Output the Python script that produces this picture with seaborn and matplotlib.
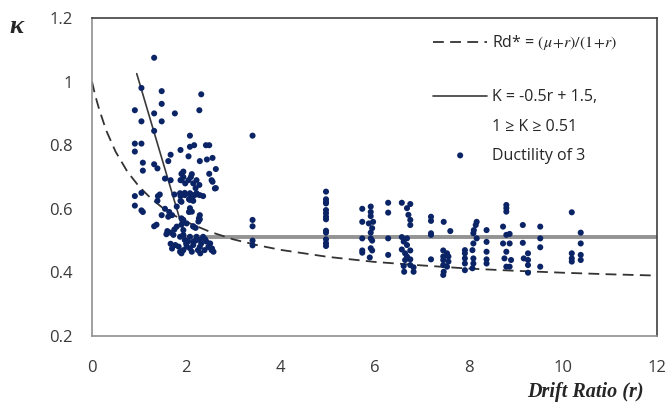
import numpy as np
import pandas as pd
import matplotlib
matplotlib.use("Agg")
import matplotlib.pyplot as plt
from matplotlib.lines import Line2D
import seaborn as sns

# Scatter data (drift ratio r, kappa)
r_pts = [
    1.32, 1.05, 1.48, 2.32, 1.48, 0.91, 1.32, 1.76, 2.28, 1.05, 1.48, 1.32, 3.41, 2.08, 0.91, 1.05,
    0.91, 1.88, 2.08, 2.17, 2.42, 2.49, 1.67, 2.05, 2.56, 2.44, 2.29, 1.62, 1.08, 1.08, 1.32, 1.39,
    2.63, 1.90, 1.94, 1.88, 2.49, 1.55, 1.67, 2.10, 2.15, 2.20, 2.56, 2.63, 1.98, 0.91, 1.05, 1.44,
    1.40, 1.75, 1.88, 1.97, 2.08, 2.15, 2.22, 2.36, 1.88, 2.06, 2.15, 0.91, 1.05, 1.08, 1.39, 1.55,
    1.64, 1.70, 1.62, 2.06, 2.27, 2.26, 1.48, 1.90, 1.32, 1.37, 1.60, 1.58, 1.67, 1.75, 1.90, 2.15,
    2.20, 3.41, 3.41, 3.41, 3.41,
    1.94, 2.12, 1.90, 2.05, 2.22, 2.28, 2.54, 2.61, 1.87, 1.97, 2.08, 2.15, 2.22, 2.29, 1.90, 2.08,
    1.80, 2.08, 2.12, 2.29, 2.29, 1.94, 2.01, 2.15, 1.80, 1.94,
    1.73, 1.87, 1.94, 1.97, 2.04, 2.08, 2.15, 2.22, 2.29, 2.32, 2.36, 2.43, 2.51, 2.54, 2.58, 2.39,
    2.25, 2.08, 1.94, 1.84, 1.77, 1.87, 2.01, 2.15, 1.67, 1.70, 1.90, 2.12, 2.29, 2.47, 2.40, 2.00,
    2.20, 2.55, 2.30,
    4.97, 4.97, 4.97, 4.97, 4.97, 4.97, 4.97, 4.97, 4.97, 4.97, 4.97, 4.97, 4.97,
    5.74, 5.92, 5.92, 5.92, 5.74, 5.88, 5.97, 5.95, 5.92, 5.74, 5.92, 5.95, 5.74, 5.74, 5.92, 5.95,
    5.90,
    6.29, 6.29, 6.29, 6.29,
    6.58, 6.76, 6.69, 6.72, 6.76, 6.76, 6.58, 6.69, 6.62, 6.69, 6.58, 6.76, 6.65, 6.69, 6.76, 6.65,
    6.62, 6.76, 6.83, 6.63, 6.83,
    7.20, 7.20, 7.20, 7.20, 7.20,
    7.47, 7.61, 7.46, 7.54, 7.46, 7.57, 7.46, 7.57, 7.46, 7.54, 7.47, 7.46,
    8.17, 8.15, 8.11, 8.10, 8.17, 8.10, 8.08, 7.92, 7.92, 7.92, 8.10, 7.92, 8.10, 8.08, 7.92,
    8.38, 8.38, 8.38, 8.38, 8.38,
    8.80, 8.80, 8.80, 8.73, 8.87, 8.80, 8.73, 8.87, 8.80, 8.76, 8.90, 8.80, 8.87,
    9.15, 9.15, 9.17, 9.26, 9.26, 9.26, 9.26,
    9.52, 9.52, 9.52, 9.52,
    10.19, 10.19, 10.19, 10.19,
    10.38, 10.38, 10.38, 10.38,
]
k_pts = [
    1.075, 0.98, 0.97, 0.96, 0.93, 0.91, 0.90, 0.90, 0.91, 0.875, 0.875, 0.845, 0.83, 0.83, 0.805, 0.805,
    0.78, 0.785, 0.795, 0.80, 0.80, 0.80, 0.77, 0.765, 0.76, 0.755, 0.75, 0.75, 0.745, 0.72, 0.74, 0.727,
    0.725, 0.71, 0.70, 0.69, 0.71, 0.695, 0.69, 0.70, 0.68, 0.665, 0.685, 0.665, 0.68, 0.64, 0.65, 0.645,
    0.64, 0.645, 0.64, 0.65, 0.645, 0.64, 0.645, 0.64, 0.625, 0.63, 0.625, 0.61, 0.595, 0.59, 0.625, 0.60,
    0.59, 0.58, 0.575, 0.59, 0.57, 0.56, 0.58, 0.57, 0.545, 0.55, 0.53, 0.52, 0.525, 0.535, 0.55, 0.545,
    0.54, 0.565, 0.545, 0.50, 0.485,
    0.717, 0.709, 0.69, 0.69, 0.69, 0.675, 0.69, 0.664, 0.649, 0.643, 0.649, 0.643, 0.649, 0.643, 0.622, 0.628,
    0.607, 0.602, 0.591, 0.58, 0.567, 0.565, 0.554, 0.544, 0.544, 0.533,
    0.518, 0.512, 0.518, 0.502, 0.497, 0.512, 0.497, 0.512, 0.502, 0.491, 0.512, 0.497, 0.491, 0.47, 0.465, 0.47,
    0.47, 0.476, 0.47, 0.481, 0.486, 0.465, 0.481, 0.486, 0.49, 0.475, 0.46, 0.465, 0.48, 0.48, 0.505, 0.49,
    0.50, 0.475, 0.46,
    0.654, 0.630, 0.622, 0.617, 0.596, 0.586, 0.575, 0.567, 0.531, 0.525, 0.504, 0.492, 0.483,
    0.600, 0.607, 0.590, 0.577, 0.559, 0.554, 0.559, 0.539, 0.525, 0.507, 0.507, 0.500, 0.469, 0.462, 0.476, 0.469,
    0.447,
    0.619, 0.588, 0.507, 0.455,
    0.619, 0.615, 0.602, 0.581, 0.565, 0.549, 0.511, 0.507, 0.497, 0.486, 0.472, 0.469, 0.460, 0.450, 0.441, 0.439,
    0.420, 0.423, 0.416, 0.402, 0.402,
    0.575, 0.562, 0.523, 0.518, 0.441,
    0.559, 0.530, 0.469, 0.460, 0.450, 0.450, 0.439, 0.434, 0.423, 0.418, 0.402, 0.392,
    0.559, 0.549, 0.533, 0.523, 0.507, 0.491, 0.470, 0.470, 0.460, 0.444, 0.444, 0.428, 0.428, 0.413, 0.407,
    0.533, 0.496, 0.465, 0.441, 0.428,
    0.612, 0.602, 0.591, 0.544, 0.521, 0.518, 0.491, 0.491, 0.465, 0.444, 0.439, 0.418, 0.418,
    0.549, 0.493, 0.444, 0.460, 0.439, 0.423, 0.399,
    0.544, 0.507, 0.479, 0.418,
    0.589, 0.460, 0.444, 0.434,
    0.525, 0.491, 0.455, 0.439,
]

# Dashed Rd* curve
rd_r = [0, 0.05, 0.1, 0.15, 0.3, 0.5, 0.75, 1.0, 1.25, 1.5, 1.75, 2, 2.5, 3, 3.5, 4, 5, 6, 7, 8, 9, 10, 11, 12]
rd_k = [1.0, 0.968, 0.940, 0.914, 0.847, 0.780, 0.717, 0.670, 0.633, 0.603, 0.579, 0.559, 0.528, 0.504,
        0.486, 0.471, 0.449, 0.433, 0.422, 0.412, 0.405, 0.399, 0.394, 0.390]

# K = -0.5r + 1.5 limited to 1 >= K >= 0.51
slope_r = [0.95, 1.98]
slope_k = [1.025, 0.51]
flat_r = [1.98, 12]
flat_k = [0.51, 0.51]

lab_rd = r'Rd* = $(\mu\!+\!r)/(1\!+\!r)$'
lab_k1 = 'K = -0.5r + 1.5,'
lab_k2 = '1 ≥ K ≥ 0.51'
lab_d = 'Ductility of 3'

sns.set_style("white")
plt.rcParams['font.family'] = ['Open Sans', 'DejaVu Sans']
plt.rcParams['mathtext.fontset'] = 'stix'

fig = plt.figure(figsize=(6.71, 4.03), dpi=100)
ax = fig.add_axes([92 / 671, 1 - 336 / 403, 565 / 671, 318 / 403])

dots = pd.DataFrame({'r': r_pts, 'k': k_pts})
curve = pd.DataFrame({'r': rd_r, 'k': rd_k})

sns.lineplot(x=flat_r, y=flat_k, ax=ax, color='#939393', linewidth=2.8, zorder=1)
sns.lineplot(x=slope_r, y=slope_k, ax=ax, color='#3a3a3a', linewidth=1.2, zorder=2, label=lab_k1)
sns.lineplot(data=curve, x='r', y='k', ax=ax, color='#333333', linewidth=1.3,
             linestyle=(0, (6, 3.5)), sort=False, estimator=None, zorder=2, label=lab_rd)
sns.scatterplot(data=dots, x='r', y='k', ax=ax, color='#0b2466', s=19, edgecolor='none',
                zorder=3, label=lab_d)

ax.set_xlim(0, 12)
ax.set_ylim(0.2, 1.2)
ax.set_xticks(range(0, 13, 2))
ax.set_yticks([0.2, 0.4, 0.6, 0.8, 1.0, 1.2])
ax.set_yticklabels(['0.2', '0.4', '0.6', '0.8', '1', '1.2'])
ax.tick_params(axis='both', length=0, labelsize=12, colors='#3a3a3a')
ax.tick_params(axis='x', pad=17)
ax.tick_params(axis='y', pad=14)

for side in ['top', 'right']:
    ax.spines[side].set_color('#404040')
    ax.spines[side].set_linewidth(1.2)
for side in ['left', 'bottom']:
    ax.spines[side].set_color('#909090')
    ax.spines[side].set_linewidth(1.2)

ax.set_xlabel('Drift Ratio (r)', family='Liberation Serif', fontweight='bold', style='italic',
              fontsize=14.5, va='center')
ax.xaxis.set_label_coords(0.873, -0.176)
ax.set_ylabel('κ', family='Liberation Serif', fontweight='bold', style='italic', fontsize=19,
              rotation=0, va='center', ha='center')
ax.yaxis.set_label_coords(-0.133, 0.972)

handles, labels = ax.get_legend_handles_labels()
hmap = dict(zip(labels, handles))
blank = Line2D([], [], linestyle='none')

leg_kw = dict(frameon=False, fontsize=11.5, bbox_transform=fig.transFigure, handlelength=3.4,
              handletextpad=0.3, borderpad=0, borderaxespad=0)
leg1 = ax.legend([hmap[lab_rd]], [lab_rd], loc='center left',
                 bbox_to_anchor=(433 / 671, 1 - 43 / 403), **leg_kw)
ax.add_artist(leg1)
ax.legend([hmap[lab_k1], blank, hmap[lab_d]], [lab_k1, lab_k2, lab_d], loc='center left',
          bbox_to_anchor=(433 / 671, 1 - 126.5 / 403), labelspacing=0.82, **leg_kw)

fig.savefig('out.png', dpi=100)
